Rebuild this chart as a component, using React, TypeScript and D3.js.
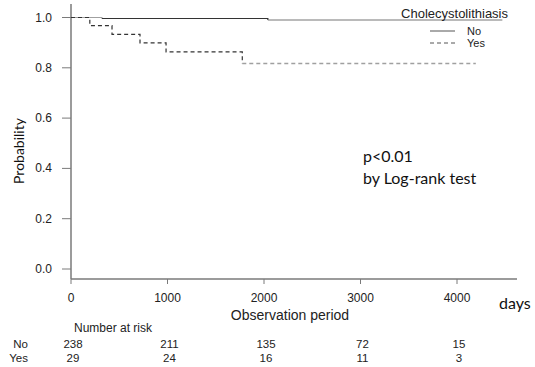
import React from "react";
import { scaleLinear, line, curveStepAfter } from "d3";

const W = 535;
const H = 367;

const xTicks = [0, 1000, 2000, 3000, 4000];
const yTicks = [0, 0.2, 0.4, 0.6, 0.8, 1.0];

// Kaplan-Meier steps
const noTimes = [0, 320, 2040, 4470];
const noSurv = [1, 0.996, 0.99, 0.99];
const yesTimes = [0, 195, 425, 715, 985, 1775, 4195];
const yesSurv = [1, 0.968, 0.933, 0.899, 0.863, 0.817, 0.817];

const riskNo = [238, 211, 135, 72, 15];
const riskYes = [29, 24, 16, 11, 3];

const axisColor = "#7a7a7a";
const dark = "#333";
const grey = "#a0a0a0";
const arial = "'Liberation Sans', Arial, sans-serif";
const calibri = "Lato, 'Open Sans', sans-serif";

const x = scaleLinear().domain([0, 4000]).range([71, 457]);
const y = scaleLinear().domain([0, 1]).range([269, 17.5]);

const stepLine = line<[number, number]>()
  .x(d => x(d[0]))
  .y(d => y(d[1]))
  .curve(curveStepAfter);

const zip = (t: number[], s: number[]) => t.map((v, i) => [v, s[i]] as [number, number]);

export default function App() {
  const noPts = zip(noTimes, noSurv);
  const yesPts = zip(yesTimes, yesSurv);
  const lastYes = yesPts.length - 2;

  return (
    <svg width={W} height={H} style={{ position: "absolute", left: 0, top: 0 }}>
      <rect width={W} height={H} fill="#fff" />

      {/* axes */}
      <line x1={71} x2={71} y1={4} y2={279} stroke={axisColor} strokeWidth={1.5} />
      <line x1={71} x2={517} y1={279} y2={279} stroke={axisColor} strokeWidth={1.5} />
      {yTicks.map(t => (
        <g key={t}>
          <line x1={62} x2={71} y1={y(t)} y2={y(t)} stroke={axisColor} strokeWidth={1} />
          <text x={52} y={y(t) + 4} textAnchor="end" fontFamily={arial} fontSize={12} fill="#222">
            {t.toFixed(1)}
          </text>
        </g>
      ))}
      {xTicks.map(t => (
        <g key={t}>
          <line x1={x(t)} x2={x(t)} y1={279} y2={284} stroke={axisColor} strokeWidth={1} />
          <text x={x(t)} y={302} textAnchor="middle" fontFamily={arial} fontSize={12} fill="#222">
            {t}
          </text>
        </g>
      ))}

      {/* curves */}
      <path d={stepLine(noPts.slice(0, 2)) || ""} fill="none" stroke={grey} strokeWidth={1.2} />
      <path d={stepLine(noPts.slice(1, 3)) || ""} fill="none" stroke={dark} strokeWidth={1.2} />
      <path d={stepLine(noPts.slice(2)) || ""} fill="none" stroke="#777" strokeWidth={1.2} />
      <path d={stepLine(yesPts.slice(0, lastYes + 1)) || ""} fill="none" stroke={dark}
        strokeWidth={1.2} strokeDasharray="4,3" />
      <path d={stepLine(yesPts.slice(lastYes)) || ""} fill="none" stroke={grey}
        strokeWidth={1.5} strokeDasharray="4,3" />

      {/* legend */}
      <text x={508} y={18} textAnchor="end" fontFamily={arial} fontSize={13} fill="#222">Cholecystolithiasis</text>
      <line x1={430} x2={455} y1={31} y2={31} stroke="#555" strokeWidth={1} />
      <text x={467} y={35} fontFamily={arial} fontSize={11} fill="#222">No</text>
      <line x1={430} x2={455} y1={43} y2={43} stroke="#555" strokeWidth={1} strokeDasharray="4,3" />
      <text x={467} y={47} fontFamily={arial} fontSize={11} fill="#222">Yes</text>

      {/* annotation */}
      <text x={363} y={162} fontFamily={calibri} fontSize={16} fill="#111">p&lt;0.01</text>
      <text x={363} y={184} fontFamily={calibri} fontSize={16} fill="#111">by Log-rank test</text>

      {/* axis titles */}
      <text x={290} y={320} textAnchor="middle" fontFamily={arial} fontSize={14} fill="#222">Observation period</text>
      <text x={499} y={309} fontFamily={calibri} fontSize={16} fill="#111">days</text>
      <text transform="translate(24,151) rotate(-90)" textAnchor="middle" fontFamily={calibri} fontSize={14} fill="#111">
        Probability
      </text>

      {/* number at risk */}
      <text x={74} y={332} fontFamily={arial} fontSize={12} fill="#222">Number at risk</text>
      <text x={28} y={348} textAnchor="end" fontFamily={arial} fontSize={11.5} fill="#222">No</text>
      <text x={28} y={362} textAnchor="end" fontFamily={arial} fontSize={11.5} fill="#222">Yes</text>
      {riskNo.map((n, i) => (
        <text key={"n" + i} x={x(xTicks[i]) + 2} y={348} textAnchor="middle" fontFamily={arial} fontSize={11.5} fill="#222">{n}</text>
      ))}
      {riskYes.map((n, i) => (
        <text key={"y" + i} x={x(xTicks[i]) + 2} y={362} textAnchor="middle" fontFamily={arial} fontSize={11.5} fill="#222">{n}</text>
      ))}
    </svg>
  );
}
